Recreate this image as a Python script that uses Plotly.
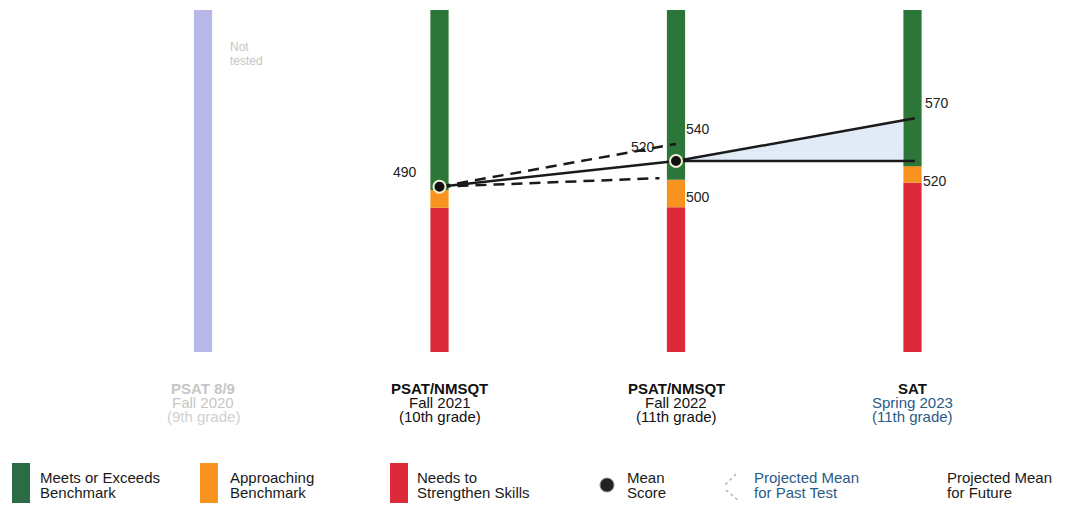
import plotly.graph_objects as go

# ---------------- data ----------------
test_names = ["PSAT 8/9", "PSAT/NMSQT", "PSAT/NMSQT", "SAT"]
test_terms = ["Fall 2020", "Fall 2021", "Fall 2022", "Spring 2023"]
test_grades = ["(9th grade)", "(10th grade)", "(11th grade)", "(11th grade)"]
tested = [False, True, True, True]

scale_min = 200
scale_max = 800
# boundaries (score units) for tested bars
red_top = [None, 453, 454, 497]      # needs to strengthen -> approaching
orange_top = [None, 484, 502, 526]   # approaching -> meets/exceeds

mean_x = [1, 2]
mean_scores = [490, 535]

past_proj_x_hi = [1, 2]
past_proj_hi = [490, 565]
past_proj_x_lo = [1, 1.93]
past_proj_lo = [490, 505]

future_x = [2, 3.01]
future_hi = [535, 610]
future_lo = [535, 535]

score_labels = ["490", "520", "540", "500", "570", "520"]

legend_labels = [
    ("Meets or Exceeds", "Benchmark"),
    ("Approaching", "Benchmark"),
    ("Needs to", "Strengthen Skills"),
    ("Mean", "Score"),
    ("Projected Mean", "for Past Test"),
    ("Projected Mean", "for Future"),
]

# ---------------- styling ----------------
W, H = 1065, 506
GREEN = "#2d7639"
LEG_GREEN = "#2b6c45"
ORANGE = "#f7931e"
RED = "#dc2a3b"
PURPLE = "#b8b8e8"
BLUE_TXT = "#2a5b86"
FONT = "Liberation Sans, Arial, sans-serif"

BAR_W = 0.077
px_per_x = 236.5
x0_px = 203
x_range = [-x0_px / px_per_x, (W - x0_px) / px_per_x]
spp = (scale_max - scale_min) / 342.0
y_range = [scale_max - (H - 10) * spp, scale_max + 10 * spp]


def P(px, py):
    return px / W, 1 - py / H


fig = go.Figure()

for i, t in enumerate(tested):
    if not t:
        fig.add_trace(go.Bar(x=[i], y=[scale_max - scale_min], base=scale_min,
                             width=BAR_W, marker_color=PURPLE, marker_line_width=0,
                             hoverinfo="skip"))

tx = [i for i, t in enumerate(tested) if t]
rt = [red_top[i] for i in tx]
ot = [orange_top[i] for i in tx]
fig.add_trace(go.Bar(x=tx, y=[r - scale_min for r in rt], base=scale_min, width=BAR_W,
                     marker_color=RED, marker_line_width=0, hoverinfo="skip"))
fig.add_trace(go.Bar(x=tx, y=[o - r for o, r in zip(ot, rt)], base=rt, width=BAR_W,
                     marker_color=ORANGE, marker_line_width=0, hoverinfo="skip"))
fig.add_trace(go.Bar(x=tx, y=[scale_max - o for o in ot], base=ot, width=BAR_W,
                     marker_color=GREEN, marker_line_width=0, hoverinfo="skip"))

# future projection fill (stops at the SAT bar edge)
fill_end = 3 - BAR_W / 2
frac = (fill_end - future_x[0]) / (future_x[1] - future_x[0])
hi_end = future_hi[0] + (future_hi[1] - future_hi[0]) * frac
fig.add_trace(go.Scatter(x=[future_x[0], fill_end, fill_end, future_x[0]],
                         y=[future_hi[0], hi_end, future_lo[1], future_lo[0]],
                         fill="toself", fillcolor="rgba(205,222,242,0.6)",
                         line=dict(width=0), mode="lines", hoverinfo="skip"))

for xs, ys in [(past_proj_x_hi, past_proj_hi), (past_proj_x_lo, past_proj_lo)]:
    fig.add_trace(go.Scatter(x=xs, y=ys, mode="lines",
                             line=dict(color="#1a1a1a", width=2.5, dash="11px,7px"),
                             hoverinfo="skip"))
fig.add_trace(go.Scatter(x=mean_x, y=mean_scores, mode="lines",
                         line=dict(color="#1a1a1a", width=2.5), hoverinfo="skip"))
for ys in [future_hi, future_lo]:
    fig.add_trace(go.Scatter(x=future_x, y=ys, mode="lines",
                             line=dict(color="#1a1a1a", width=2.5), hoverinfo="skip"))
fig.add_trace(go.Scatter(x=mean_x, y=mean_scores, mode="markers",
                         marker=dict(color="#111111", size=12,
                                     line=dict(color="#f2efd6", width=2)),
                         hoverinfo="skip"))

annotations = []
shapes = []

label_pos = [(405, 172), (643, 147), (698, 129), (698, 197), (937, 103), (935, 181)]
for txt, (px, py) in zip(score_labels, label_pos):
    x, y = P(px, py)
    annotations.append(dict(x=x, y=y, xref="paper", yref="paper", text=txt,
                            showarrow=False, font=dict(family=FONT, size=14, color="#222"),
                            xanchor="center", yanchor="middle"))

for txt, py in [("Not", 47), ("tested", 61)]:
    x, y = P(228, py)
    annotations.append(dict(x=x, y=y, xref="paper", yref="paper", text=txt,
                            showarrow=False, font=dict(family=FONT, size=12, color="#c4c4c4"),
                            xanchor="left", yanchor="middle"))

for i in range(len(test_names)):
    if not tested[i]:
        cols = ["#c6c6c6", "#c6c6c6", "#d0d0d0"]
    elif i == 3:
        cols = ["#111111", BLUE_TXT, BLUE_TXT]
    else:
        cols = ["#111111", "#111111", "#111111"]
    lines = [f"<b>{test_names[i]}</b>", test_terms[i], test_grades[i]]
    for j, (ln, c) in enumerate(zip(lines, cols)):
        _, y = P(0, 388 + 14 * j)
        annotations.append(dict(x=i, y=y, xref="x", yref="paper", text=ln,
                                showarrow=False, font=dict(family=FONT, size=15, color=c),
                                xanchor="center", yanchor="middle"))

swatches = [(12, LEG_GREEN), (200, ORANGE), (390, RED)]
for (sx, col) in swatches:
    x0, y0 = P(sx, 463)
    x1, y1 = P(sx + 18, 503)
    shapes.append(dict(type="rect", xref="paper", yref="paper", x0=x0, x1=x1,
                       y0=y1, y1=y0, fillcolor=col, line=dict(width=0)))
cx, cy = 607, 485
x0, y0 = P(cx - 7, cy - 7)
x1, y1 = P(cx + 7, cy + 7)
shapes.append(dict(type="circle", xref="paper", yref="paper", x0=x0, x1=x1, y0=y1, y1=y0,
                   fillcolor="#222", line=dict(color="#888", width=1)))
for (ax, ay, bx, by) in [(736, 474, 725, 485), (726, 490, 739, 501)]:
    x0, y0 = P(ax, ay)
    x1, y1 = P(bx, by)
    shapes.append(dict(type="line", xref="paper", yref="paper", x0=x0, y0=y0, x1=x1, y1=y1,
                       line=dict(color="#b8b8b8", width=1.5, dash="dot")))

legend_text_x = [38, 228, 415, 625, 752, 945]
legend_cols = ["#1a1a1a", "#1a1a1a", "#1a1a1a", "#1a1a1a", BLUE_TXT, "#1a1a1a"]
for (l1, l2), lx, c in zip(legend_labels, legend_text_x, legend_cols):
    for txt, py in [(l1, 477), (l2, 492)]:
        x, y = P(lx, py)
        annotations.append(dict(x=x, y=y, xref="paper", yref="paper", text=txt,
                                showarrow=False, font=dict(family=FONT, size=15, color=c),
                                xanchor="left", yanchor="middle"))

fig.update_layout(
    width=W, height=H,
    margin=dict(l=0, r=0, t=0, b=0),
    paper_bgcolor="white", plot_bgcolor="white",
    barmode="overlay", showlegend=False,
    xaxis=dict(range=x_range, visible=False, fixedrange=True),
    yaxis=dict(range=y_range, visible=False, fixedrange=True),
    annotations=annotations, shapes=shapes,
)

fig.write_html("out.html", config={"displayModeBar": False},
               post_script="document.body.style.margin='0';document.body.style.overflow='hidden';")
